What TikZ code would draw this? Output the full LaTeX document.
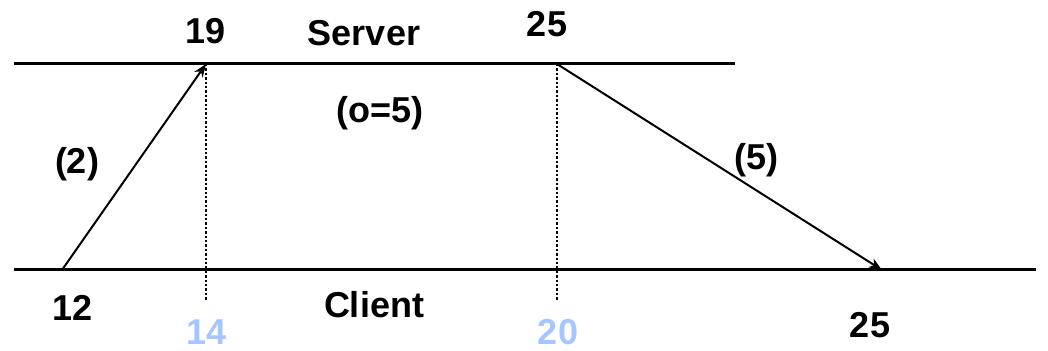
\documentclass[tikz,border=0pt]{standalone}
\usepackage{fontspec}
\setmainfont{Liberation Sans}
\usetikzlibrary{arrows.meta, positioning}
\definecolor{TimeBlue}{HTML}{A6C6FF}
\tikzset{
  label/.style={font=\fontsize{18}{20}\selectfont\bfseries, inner sep=0pt},
  faint/.style={label, text=TimeBlue},
  timeline/.style={line width=1.5pt},
  msg/.style={-{Stealth[length=6.5pt, width=5pt, inset=2pt]}, line width=1pt},
  tick/.style={line width=1.2pt, dash pattern=on 1.2pt off 1pt}
}

\begin{document}
\begin{tikzpicture}[x=0.5pt, y=-0.5pt]
\useasboundingbox (0,0) rectangle (1048,351);
% the two time lines
\coordinate (sl) at (14,64);
\coordinate (sr) at (735,64);
\coordinate (cl) at (14,270);
\coordinate (cr) at (1036,270);
\draw[timeline] (sl) -- (sr);
\draw[timeline] (cl) -- (cr);
% message end points
\coordinate (send) at (62,270);
\coordinate (recv) at (206,64);
\coordinate (reply) at (557,64);
\coordinate (back) at (882,270);
\coordinate (t14) at (206,300);
\coordinate (t20) at (557,300);
% labels
\node[label] (srv) at (364,33) {Server};
\node[label] (cli) at (374,305) {Client};
\node[label] (n19) at (206,31) {19};
\node[label] (n25a) at (547,24) {25};
\node[label] (off) at (380,113) {(o=5)};
\node[label] (d2) at (77,164) {(2)};
\node[label] (d5) at (756,160) {(5)};
\node[label] (n12) at (73,308) {12};
\node[label] (n25b) at (870,325) {25};
\node[faint] (n14) at (207,332) {14};
\node[faint] (n20) at (558,332) {20};
% messages and the local clock marks
\draw[msg] (send) -- (recv);
\draw[msg] (reply) -- (back);
\draw[tick] (recv) -- (t14);
\draw[tick] (reply) -- (t20);
\end{tikzpicture}
\end{document}
